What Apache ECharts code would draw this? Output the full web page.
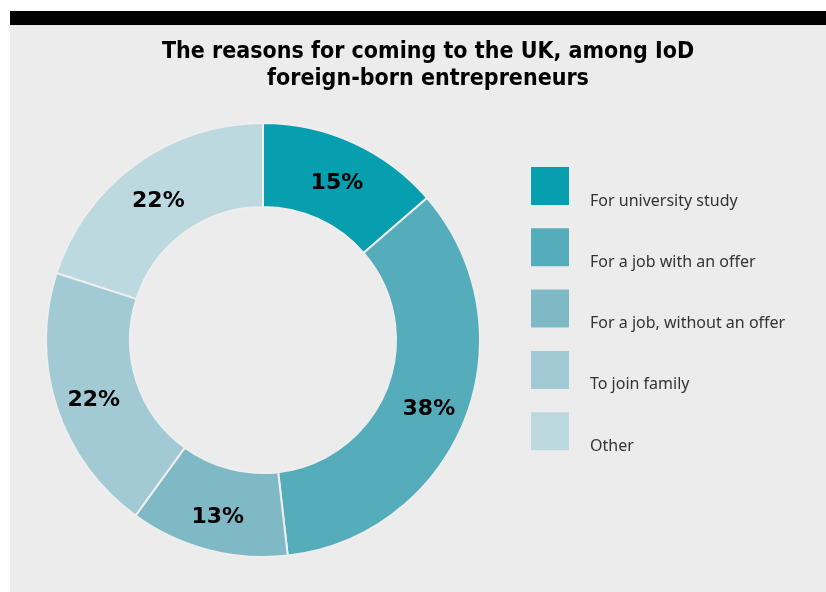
<!DOCTYPE html>
<html>
<head>
<meta charset="utf-8">
<script src="https://cdn.jsdelivr.net/npm/echarts@6/dist/echarts.min.js"></script>
<style>
html,body{margin:0;padding:0;background:#fff;}
#main{width:826px;height:592px;}
</style>
</head>
<body>
<div id="main"></div>
<script>
const titleLines = ['The reasons for coming to the UK, among IoD', 'foreign-born entrepreneurs'];
const categories = ['For university study', 'For a job with an offer', 'For a job, without an offer', 'To join family', 'Other'];
const values = [15, 38, 13, 22, 22];
const colors = ['#079fb0', '#55acbb', '#7fb9c6', '#a1cad4', '#bcd9df'];

const chart = echarts.init(document.getElementById('main'), null, {renderer: 'canvas'});
const data = categories.map((c, i) => ({name: c, value: values[i], itemStyle: {color: colors[i]}}));

chart.setOption({
  backgroundColor: '#ffffff',
  animation: false,
  graphic: [
    {type: 'rect', left: 10, top: 25, shape: {width: 816, height: 567}, style: {fill: '#ececec'}, z: -10},
    {type: 'rect', left: 10, top: 11, shape: {width: 816, height: 14}, style: {fill: '#000000'}, z: -10}
  ],
  title: {
    text: titleLines.join('\n'),
    left: 423,
    textAlign: 'center',
    top: 34,
    textStyle: {
      fontFamily: 'DejaVu Sans Condensed',
      fontWeight: 'bold',
      fontSize: 23,
      lineHeight: 27,
      color: '#000'
    }
  },
  legend: {
    orient: 'vertical',
    left: 531,
    top: 156,
    padding: 0,
    itemWidth: 38,
    itemHeight: 38,
    itemGap: 1.3,
    icon: 'rect',
    itemStyle: {borderWidth: 0},
    selectedMode: false,
    data: categories,
    formatter: name => '\n' + name,
    textStyle: {
      fontFamily: 'Noto Sans',
      fontSize: 16,
      color: '#333333',
      padding: [0, 0, 0, 16],
      lineHeight: 30
    }
  },
  series: [{
    type: 'pie',
    center: [263, 340],
    radius: [133, 217],
    startAngle: 90,
    clockwise: true,
    avoidLabelOverlap: false,
    itemStyle: {borderColor: '#eeeeee', borderWidth: 2},
    label: {
      show: true,
      position: 'inside',
      formatter: '{c}%',
      fontFamily: 'DejaVu Sans',
      fontWeight: 'bold',
      fontSize: 22,
      color: '#000',
      offset: [0, 5]
    },
    labelLine: {show: false},
    emphasis: {disabled: true},
    data: data
  }]
});
</script>
</body>
</html>
